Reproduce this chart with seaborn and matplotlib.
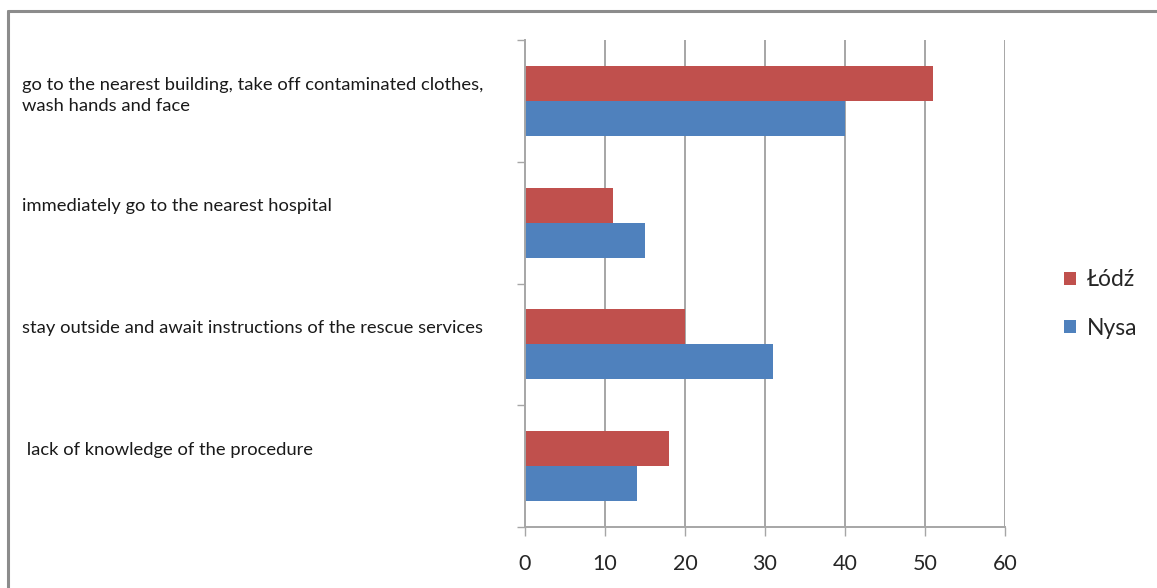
import matplotlib
matplotlib.use("Agg")
import matplotlib.pyplot as plt
from matplotlib.lines import Line2D
from matplotlib.patches import Patch
import matplotlib.transforms as mtransforms
import seaborn as sns
import pandas as pd
import numpy as np

# Survey answers and the share of respondents in each city
categories = [
    "go to the nearest building, take off contaminated clothes,\nwash hands and face",
    "immediately go to the nearest hospital",
    "stay outside and await instructions of the rescue services",
    " lack of knowledge of the procedure",
]
cities = ["Łódź", "Nysa"]
lodz_values = [51, 11, 20, 18]
nysa_values = [40, 15, 31, 14]
x_ticks = [0, 10, 20, 30, 40, 50, 60]

colors = {"Łódź": "#C0504D", "Nysa": "#4F81BD"}

df = pd.DataFrame({
    "answer": categories * 2,
    "city": [cities[0]] * len(categories) + [cities[1]] * len(categories),
    "value": lodz_values + nysa_values,
})

sns.set_theme(style="white")
plt.rcParams["font.family"] = ["Lato", "DejaVu Sans"]

fig = plt.figure(figsize=(11.57, 5.88), dpi=100)
ax = fig.add_axes([525 / 1157, 1 - 527 / 588, 480 / 1157, 487 / 588])

sns.barplot(data=df, y="answer", x="value", hue="city", hue_order=cities,
            order=categories, palette=colors, orient="h", width=0.574,
            saturation=1, linewidth=0, ax=ax, legend=False)

grid_c = "#A6A6A6"
ax.set_xlim(0, 60)
ax.set_ylim(3.5, -0.5)
ax.set_xticks(x_ticks)
ax.set_xticklabels([str(t) for t in x_ticks], fontsize=15.5, color="#262626")
ax.set_xlabel("")
ax.set_ylabel("")

# vertical gridlines
ax.grid(False)
for t in x_ticks[1:]:
    ax.axvline(t, color=grid_c, lw=1.4, zorder=0)

# category boundary ticks on the y axis
ax.set_yticks(np.arange(-0.5, len(categories), 1.0))
ax.set_yticklabels([])
ax.tick_params(axis="y", which="major", direction="out", length=6, width=1.0,
               color=grid_c, left=True)
ax.tick_params(axis="x", which="major", direction="out", length=6.5, width=1.0,
               color=grid_c, bottom=True, pad=13)

for s in ["top", "right"]:
    ax.spines[s].set_visible(False)
for s in ["left", "bottom"]:
    ax.spines[s].set_color(grid_c)
    ax.spines[s].set_linewidth(1.4)

# category labels, left-aligned near the figure edge
trans = mtransforms.blended_transform_factory(fig.transFigure, ax.transData)
for i, lab in enumerate(categories):
    ax.text(22 / 1157, i - 0.5 + 0.30, lab, transform=trans, ha="left", va="top",
            fontsize=13.2, color="#1a1a1a", linespacing=1.4, clip_on=False)

handles = [Patch(facecolor=colors[c], edgecolor="none", label=c) for c in cities]
fig.legend(handles=handles, loc="center left", bbox_to_anchor=(1055 / 1157, 1 - 304 / 588),
           frameon=False, fontsize=16.5, handlelength=0.5, handleheight=0.5,
           handletextpad=0.5, labelspacing=1.2, borderaxespad=0)

# frame lines along the top and left of the figure
border_c = "#8C8C8C"
fig.add_artist(Line2D([8 / 1157, 1.0], [1 - 11 / 588, 1 - 11 / 588],
                      transform=fig.transFigure, color=border_c, lw=2.2))
fig.add_artist(Line2D([8 / 1157, 8 / 1157], [0.0, 1 - 11 / 588],
                      transform=fig.transFigure, color=border_c, lw=2.2))

fig.savefig("out.png", dpi=100)
